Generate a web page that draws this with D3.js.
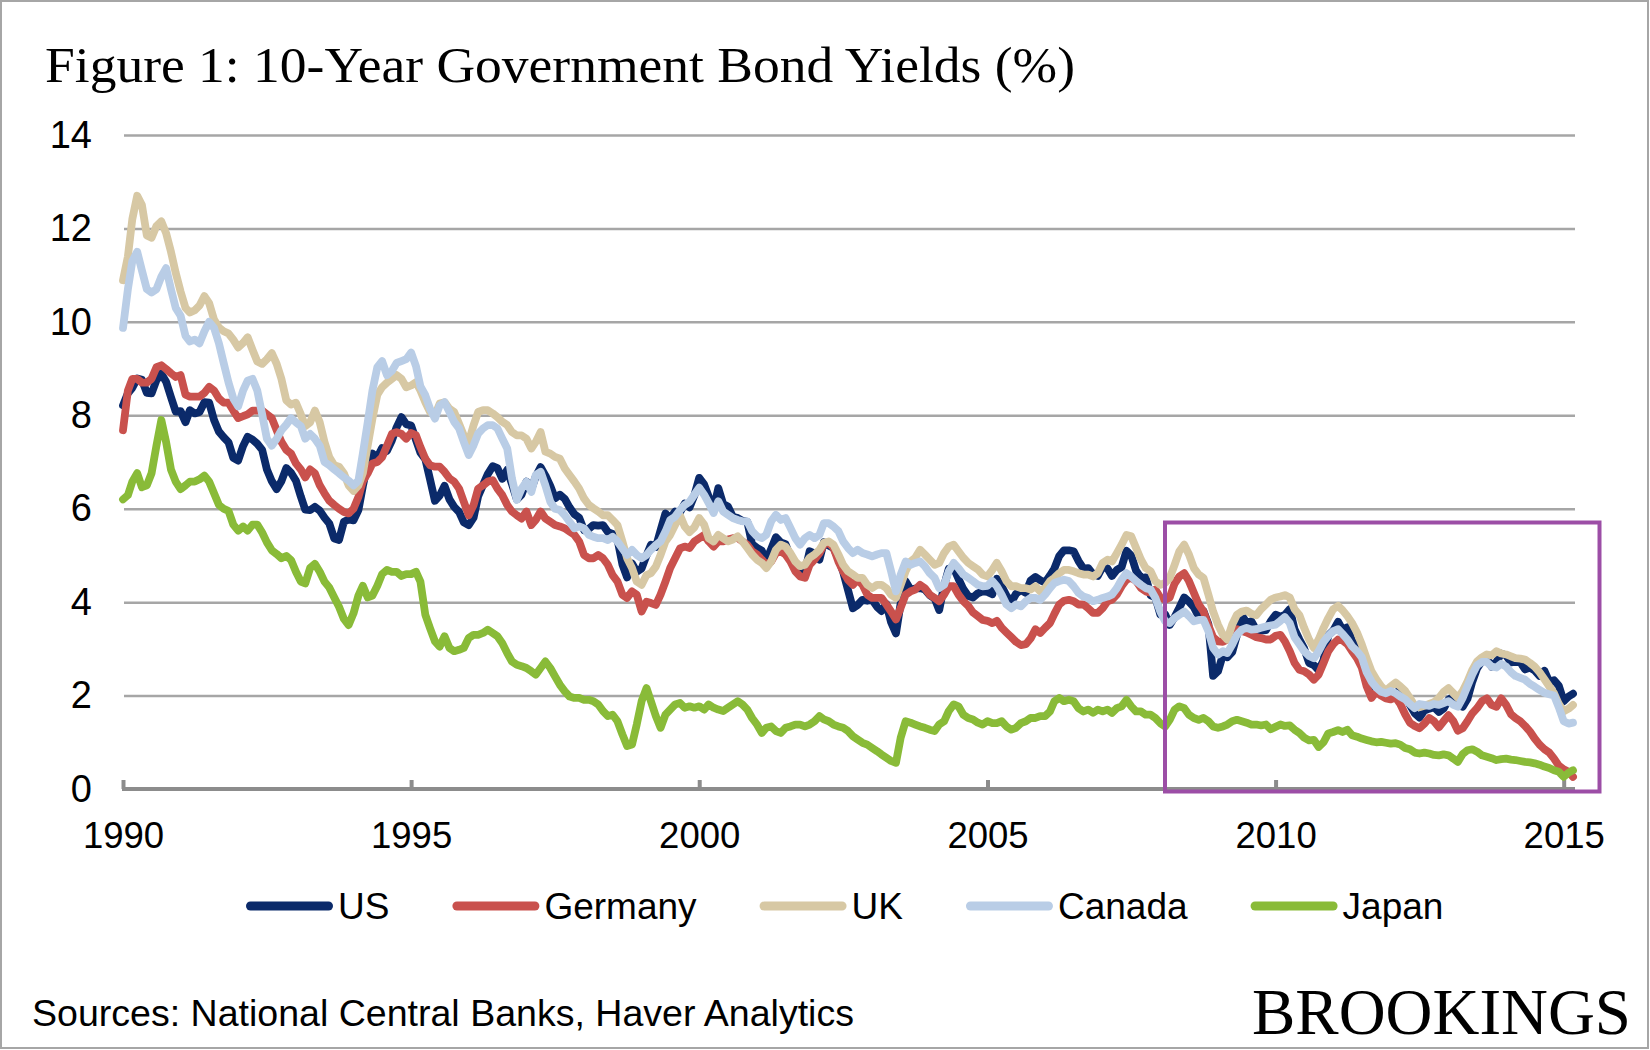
<!DOCTYPE html>
<html><head><meta charset="utf-8">
<script src="https://cdn.jsdelivr.net/npm/d3@7"></script>
<style>
html,body{margin:0;padding:0;background:#fff;}
svg{display:block;}
</style></head><body>
<svg id="chart" width="1650" height="1050"></svg>
<script>
// ---------- DATA ----------
const titleText = "Figure 1: 10-Year Government Bond Yields (%)";
const sourceText = "Sources: National Central Banks, Haver Analytics";
const brandText = "BROOKINGS";
const seriesNames = ["US", "Germany", "UK", "Canada", "Japan"];
const seriesColors = ["#0b2a6a", "#c9514d", "#d7c8a4", "#b9cde6", "#89bb38"];
const yTickValues = [0, 2, 4, 6, 8, 10, 12, 14];
const xTickYears = [1990, 1995, 2000, 2005, 2010, 2015];
const firstYear = 1990; // monthly observations from January 1990

const us = [
 8.21,8.47,8.59,8.79,8.76,8.48,8.47,8.75,8.89,8.72,8.39,8.08,
 8.09,7.85,8.11,8.04,8.07,8.28,8.27,7.90,7.65,7.53,7.42,7.09,
 7.03,7.34,7.54,7.48,7.39,7.26,6.84,6.59,6.42,6.59,6.87,6.77,
 6.60,6.26,5.98,5.97,6.04,5.96,5.81,5.68,5.36,5.33,5.72,5.77,
 5.75,5.97,6.48,6.97,7.18,7.10,7.30,7.24,7.46,7.74,7.96,7.81,
 7.78,7.47,7.20,7.06,6.63,6.17,6.28,6.49,6.20,6.04,5.93,5.71,
 5.65,5.81,6.27,6.51,6.74,6.91,6.87,6.64,6.83,6.53,6.20,6.30,
 6.58,6.42,6.69,6.89,6.71,6.49,6.22,6.30,6.21,6.03,5.88,5.81,
 5.54,5.57,5.65,5.64,5.65,5.50,5.46,5.34,4.81,4.53,4.83,4.65,
 4.72,5.00,5.23,5.18,5.54,5.90,5.79,5.94,5.92,6.11,6.03,6.28,
 6.66,6.52,6.26,5.99,6.44,6.10,6.05,5.83,5.80,5.74,5.72,5.24,
 5.16,5.10,4.89,5.14,5.39,5.28,5.24,4.97,4.73,4.57,4.65,5.09,
 5.04,4.91,5.28,5.21,5.16,4.93,4.65,4.26,3.87,3.94,4.05,4.03,
 4.05,3.90,3.81,3.96,3.57,3.33,3.98,4.45,4.27,4.29,4.30,4.27,
 4.15,4.08,3.83,4.35,4.72,4.73,4.50,4.28,4.13,4.10,4.19,4.23,
 4.22,4.17,4.50,4.34,4.14,4.00,4.18,4.26,4.20,4.46,4.54,4.47,
 4.42,4.57,4.72,4.99,5.11,5.11,5.09,4.88,4.72,4.73,4.60,4.56,
 4.76,4.72,4.56,4.69,4.75,5.10,5.00,4.67,4.52,4.53,4.15,4.10,
 3.74,3.74,3.51,3.68,3.88,4.10,4.01,3.89,3.69,3.81,3.53,2.42,
 2.52,2.87,2.82,2.93,3.29,3.72,3.56,3.59,3.40,3.39,3.40,3.59,
 3.73,3.69,3.73,3.85,3.42,3.20,3.01,2.70,2.65,2.54,2.76,3.29,
 3.39,3.58,3.41,3.46,3.17,3.00,3.00,2.30,1.98,2.15,2.01,1.98,
 1.97,1.97,2.17,2.05,1.80,1.62,1.53,1.68,1.72,1.75,1.65,1.72,
 1.91,1.98,1.96,1.76,1.93,2.30,2.58,2.74,2.81,2.62,2.72,2.90,
 2.86,2.71,2.72,2.71,2.56,2.60,2.54,2.42,2.53,2.30,2.33,2.21,
 1.88,1.98,2.04
];

const germany = [
 7.68,8.53,8.78,8.78,8.70,8.70,8.78,9.03,9.07,8.99,8.90,8.82,
 8.86,8.44,8.40,8.40,8.40,8.48,8.61,8.53,8.36,8.27,8.27,8.10,
 7.94,7.98,8.02,8.10,8.10,8.10,8.02,7.94,7.68,7.43,7.26,7.18,
 6.97,6.84,6.67,6.84,6.76,6.50,6.33,6.17,6.08,6.00,5.93,5.90,
 6.00,6.25,6.59,6.76,6.97,7.00,7.10,7.35,7.60,7.64,7.60,7.50,
 7.62,7.57,7.32,7.07,6.93,6.90,6.90,6.79,6.65,6.58,6.43,6.15,
 5.86,6.08,6.43,6.50,6.58,6.61,6.43,6.29,6.08,5.94,5.86,5.79,
 5.94,5.65,5.76,5.94,5.79,5.72,5.65,5.62,5.58,5.51,5.44,5.30,
 5.01,4.94,4.94,5.01,4.94,4.80,4.58,4.44,4.16,4.09,4.23,4.16,
 3.80,4.01,3.98,3.94,4.16,4.44,4.73,4.94,5.15,5.19,5.16,5.30,
 5.37,5.44,5.30,5.19,5.30,5.30,5.34,5.37,5.37,5.30,5.23,5.09,
 5.02,4.91,4.80,4.87,5.05,5.09,5.02,4.87,4.66,4.55,4.52,4.80,
 4.91,5.05,5.23,5.27,5.16,4.87,4.66,4.48,4.37,4.48,4.37,4.16,
 4.09,4.09,4.09,3.95,3.80,3.63,3.88,4.16,4.23,4.27,4.37,4.30,
 4.16,4.09,4.02,4.16,4.34,4.34,4.16,4.02,3.92,3.78,3.70,3.62,
 3.60,3.55,3.60,3.45,3.35,3.25,3.15,3.08,3.10,3.22,3.42,3.34,
 3.45,3.55,3.75,3.95,4.03,4.05,4.02,3.95,3.95,3.87,3.77,3.77,
 3.87,4.02,4.05,4.16,4.34,4.48,4.52,4.45,4.30,4.23,4.20,4.27,
 4.10,4.05,4.10,4.40,4.55,4.62,4.45,4.20,3.95,3.80,3.50,3.25,
 3.16,3.15,3.20,3.40,3.42,3.38,3.35,3.30,3.25,3.23,3.20,3.20,
 3.28,3.30,3.16,2.95,2.70,2.55,2.52,2.45,2.34,2.45,2.70,2.95,
 3.10,3.20,3.18,3.10,2.95,2.80,2.60,2.20,1.95,2.08,2.00,1.94,
 1.92,1.96,1.82,1.60,1.42,1.35,1.30,1.40,1.52,1.45,1.32,1.45,
 1.58,1.45,1.25,1.30,1.45,1.62,1.73,1.88,1.94,1.80,1.76,1.94,
 1.80,1.60,1.52,1.45,1.35,1.23,1.08,0.95,0.85,0.78,0.65,0.50,
 0.42,0.37,0.26
];

const uk = [
 10.89,11.40,12.20,12.70,12.50,11.85,11.80,12.05,12.15,11.90,11.50,11.05,
 10.65,10.30,10.20,10.25,10.35,10.55,10.40,10.05,9.88,9.80,9.75,9.62,
 9.45,9.55,9.67,9.40,9.15,9.10,9.20,9.33,9.10,8.78,8.32,8.23,
 8.27,8.02,7.77,7.85,8.10,7.85,7.43,7.10,6.93,6.90,6.76,6.50,
 6.38,6.50,6.76,7.35,7.93,8.44,8.60,8.70,8.78,8.86,8.78,8.60,
 8.64,8.71,8.53,8.28,8.07,8.00,8.25,8.28,8.14,8.07,7.82,7.57,
 7.43,7.79,8.07,8.11,8.11,8.04,7.96,7.86,7.79,7.64,7.57,7.57,
 7.50,7.29,7.43,7.64,7.22,7.18,7.11,7.07,6.86,6.72,6.58,6.43,
 6.22,6.08,6.01,5.94,5.86,5.86,5.76,5.65,5.30,4.94,4.73,4.44,
 4.37,4.58,4.62,4.76,5.01,5.30,5.44,5.65,5.86,5.62,5.50,5.60,
 5.80,5.66,5.37,5.30,5.44,5.37,5.30,5.34,5.41,5.30,5.16,5.02,
 4.91,4.84,4.73,4.87,5.12,5.23,5.19,5.05,4.87,4.77,4.80,4.95,
 5.02,5.12,5.27,5.30,5.23,5.02,4.80,4.66,4.59,4.52,4.52,4.37,
 4.30,4.37,4.37,4.30,4.16,4.09,4.37,4.66,4.87,4.95,5.12,5.02,
 4.91,4.80,4.84,5.05,5.19,5.23,5.09,4.95,4.84,4.77,4.70,4.59,
 4.55,4.69,4.84,4.66,4.45,4.34,4.34,4.30,4.30,4.27,4.34,4.23,
 4.30,4.45,4.52,4.62,4.69,4.69,4.66,4.62,4.59,4.59,4.55,4.62,
 4.84,4.91,4.87,5.05,5.23,5.44,5.41,5.16,4.91,4.73,4.66,4.45,
 4.37,4.41,4.52,4.80,5.09,5.23,5.02,4.73,4.59,4.52,4.16,3.80,
 3.52,3.30,3.20,3.52,3.73,3.80,3.82,3.75,3.72,3.85,3.95,4.05,
 4.10,4.12,4.15,4.10,3.85,3.72,3.45,3.20,3.02,3.20,3.45,3.66,
 3.85,3.92,3.83,3.70,3.55,3.35,3.10,2.80,2.52,2.35,2.20,2.10,
 2.20,2.28,2.20,2.10,1.95,1.78,1.75,1.78,1.82,1.86,1.95,2.08,
 2.16,2.05,1.95,2.10,2.30,2.55,2.73,2.82,2.88,2.86,2.95,2.90,
 2.88,2.84,2.80,2.79,2.77,2.70,2.62,2.50,2.35,2.20,2.05,1.82,
 1.66,1.72,1.80
];

const canada = [
 9.87,10.70,11.30,11.50,11.10,10.70,10.63,10.70,10.97,11.15,10.70,10.30,
 10.13,9.70,9.58,9.62,9.54,9.80,10.00,9.87,9.54,9.12,8.70,8.36,
 8.19,8.53,8.74,8.78,8.53,8.02,7.50,7.35,7.50,7.68,7.80,7.94,
 7.85,7.77,7.50,7.60,7.50,7.35,7.00,6.93,6.84,6.76,6.67,6.60,
 6.50,6.60,7.18,7.85,8.53,9.03,9.16,8.86,8.95,9.12,9.16,9.20,
 9.34,9.05,8.62,8.43,8.14,7.93,8.21,8.28,8.07,7.86,7.72,7.43,
 7.15,7.36,7.61,7.72,7.79,7.79,7.72,7.50,7.29,6.65,6.19,6.43,
 6.58,6.36,6.72,6.79,6.50,6.15,6.00,5.97,5.86,5.72,5.58,5.62,
 5.58,5.44,5.40,5.37,5.37,5.33,5.40,5.30,5.15,5.01,5.12,5.01,
 4.94,5.01,5.12,5.22,5.30,5.51,5.76,5.83,5.97,6.08,6.15,6.30,
 6.45,6.30,6.12,5.91,6.16,5.94,5.87,5.80,5.76,5.73,5.73,5.52,
 5.41,5.37,5.44,5.73,5.87,5.76,5.80,5.59,5.37,5.23,5.37,5.44,
 5.37,5.44,5.69,5.69,5.62,5.52,5.30,5.16,5.05,5.12,5.05,5.02,
 4.98,5.02,5.05,5.05,4.66,4.23,4.59,4.87,4.80,4.84,4.87,4.77,
 4.62,4.52,4.30,4.37,4.66,4.84,4.73,4.59,4.52,4.45,4.37,4.34,
 4.35,4.45,4.34,4.16,3.95,3.87,3.95,3.91,4.02,4.09,4.09,4.05,
 4.16,4.30,4.41,4.45,4.48,4.45,4.34,4.20,4.12,4.09,4.02,4.05,
 4.09,4.12,4.16,4.30,4.48,4.62,4.55,4.45,4.37,4.30,4.27,4.09,
 3.80,3.59,3.55,3.66,3.73,3.80,3.70,3.59,3.62,3.62,3.38,3.02,
 2.88,2.95,2.91,3.09,3.30,3.41,3.45,3.41,3.42,3.45,3.48,3.50,
 3.52,3.60,3.68,3.55,3.25,3.10,2.95,2.85,2.80,2.95,3.15,3.28,
 3.38,3.42,3.32,3.20,3.05,2.95,2.82,2.50,2.30,2.17,2.08,2.05,
 2.10,2.05,1.98,1.92,1.82,1.73,1.82,1.80,1.78,1.82,1.80,1.84,
 1.88,1.80,1.76,1.95,2.20,2.45,2.65,2.72,2.72,2.62,2.60,2.68,
 2.62,2.50,2.42,2.38,2.34,2.25,2.19,2.12,2.06,2.03,2.00,1.75,
 1.45,1.40,1.42
];

const japan = [
 6.20,6.29,6.58,6.76,6.46,6.50,6.76,7.35,7.90,7.43,6.84,6.58,
 6.42,6.50,6.58,6.58,6.63,6.71,6.58,6.33,6.08,6.00,5.95,5.66,
 5.53,5.62,5.53,5.66,5.66,5.49,5.28,5.11,5.03,4.94,4.99,4.90,
 4.65,4.44,4.40,4.73,4.82,4.65,4.44,4.31,4.10,3.90,3.64,3.51,
 3.76,4.14,4.35,4.10,4.14,4.35,4.60,4.69,4.65,4.65,4.56,4.60,
 4.60,4.65,4.44,3.73,3.44,3.16,3.05,3.27,3.02,2.95,2.98,3.02,
 3.23,3.30,3.30,3.34,3.41,3.34,3.27,3.12,2.91,2.73,2.66,2.63,
 2.59,2.52,2.45,2.59,2.73,2.59,2.41,2.23,2.09,1.98,1.95,1.95,
 1.91,1.91,1.88,1.81,1.67,1.56,1.59,1.45,1.17,0.92,0.95,1.38,
 1.88,2.16,1.88,1.56,1.31,1.59,1.70,1.81,1.84,1.74,1.77,1.74,
 1.77,1.70,1.81,1.74,1.70,1.67,1.74,1.81,1.88,1.81,1.70,1.52,
 1.38,1.20,1.31,1.34,1.24,1.20,1.31,1.34,1.38,1.38,1.34,1.38,
 1.45,1.56,1.49,1.45,1.38,1.34,1.31,1.24,1.13,1.06,0.99,0.95,
 0.88,0.81,0.74,0.67,0.60,0.56,1.10,1.45,1.42,1.38,1.34,1.31,
 1.27,1.24,1.38,1.45,1.67,1.81,1.77,1.59,1.52,1.49,1.42,1.38,
 1.45,1.41,1.41,1.45,1.34,1.27,1.31,1.41,1.45,1.52,1.52,1.56,
 1.56,1.66,1.88,1.95,1.88,1.91,1.88,1.73,1.66,1.70,1.63,1.70,
 1.66,1.70,1.63,1.73,1.77,1.91,1.77,1.66,1.66,1.59,1.59,1.52,
 1.41,1.34,1.48,1.70,1.77,1.73,1.59,1.52,1.48,1.52,1.45,1.34,
 1.31,1.34,1.38,1.45,1.48,1.45,1.42,1.38,1.38,1.36,1.38,1.28,
 1.33,1.38,1.35,1.36,1.27,1.20,1.10,1.04,1.05,0.90,1.00,1.19,
 1.22,1.26,1.22,1.27,1.15,1.12,1.08,1.05,1.02,1.00,1.01,0.99,
 0.97,0.98,0.95,0.88,0.85,0.78,0.76,0.78,0.76,0.73,0.72,0.74,
 0.72,0.65,0.58,0.75,0.83,0.85,0.80,0.72,0.69,0.66,0.62,0.64,
 0.65,0.63,0.62,0.60,0.58,0.57,0.55,0.52,0.48,0.45,0.40,0.37,
 0.26,0.35,0.40
];

const seriesValues = [us, germany, uk, canada, japan];

// ---------- DRAW ----------
const W = 1650, H = 1050;
const sans = "'Liberation Sans', Arial, sans-serif";
const serif = "'Liberation Serif', 'Times New Roman', serif";
const svg = d3.select("#chart");

svg.append("rect").attr("width", W).attr("height", H).attr("fill", "#fff");
svg.append("rect").attr("x", 1).attr("y", 1).attr("width", W - 3).attr("height", H - 3)
  .attr("fill", "none").attr("stroke", "#a6a6a6").attr("stroke-width", 2);

const dates = us.map((_, i) => new Date(firstYear, i, 1));
const plotLeft = 123, plotRight = 1575;
const x = d3.scaleTime().domain([dates[0], dates[dates.length - 1]]).range([plotLeft, 1573]);
const y = d3.scaleLinear().domain([0, 14]).range([789, 135]);

// title
svg.append("text").attr("x", 45).attr("y", 82)
  .attr("font-family", serif).attr("font-size", 51).attr("fill", "#000")
  .attr("textLength", 1030).attr("lengthAdjust", "spacingAndGlyphs")
  .text(titleText);

// y axis with gridlines
const yAxis = svg.append("g").attr("transform", `translate(${plotLeft + 1},0)`)
  .call(d3.axisLeft(y).tickValues(yTickValues).tickSize(-(plotRight - plotLeft - 1)).tickPadding(32).tickFormat(d3.format("d")));
yAxis.select(".domain").remove();
yAxis.selectAll(".tick line").attr("stroke", "#a6a6a6").attr("stroke-width", 2.5)
  .filter(d => d === 0).remove();
yAxis.selectAll(".tick text").attr("font-family", sans).attr("font-size", 38).attr("fill", "#000");

// x axis
const xAxis = svg.append("g").attr("transform", `translate(0,${y(0)})`)
  .call(d3.axisBottom(x).tickValues(xTickYears.map(yr => new Date(yr, 0, 1)))
    .tickSize(-9).tickPadding(33).tickFormat(d3.timeFormat("%Y")));
xAxis.select(".domain").remove();
xAxis.selectAll(".tick line").attr("stroke", "#8c8c8c").attr("stroke-width", 4);
xAxis.selectAll(".tick text").attr("font-family", sans).attr("font-size", 36.5).attr("fill", "#000");
xAxis.append("line").attr("x1", plotLeft - 1).attr("x2", plotRight).attr("y1", 0).attr("y2", 0)
  .attr("stroke", "#8c8c8c").attr("stroke-width", 4);

// series lines
const line = d3.line().x((d, i) => x(dates[i])).y(d => y(d));
svg.append("g").selectAll("path").data(seriesValues).join("path")
  .attr("d", line).attr("fill", "none")
  .attr("stroke", (d, i) => seriesColors[i]).attr("stroke-width", 7.8)
  .attr("stroke-linejoin", "round").attr("stroke-linecap", "round");

// highlight box
svg.append("rect").attr("x", 1165).attr("y", 522.5).attr("width", 434.5).attr("height", 269)
  .attr("fill", "none").attr("stroke", "#9c4ea6").attr("stroke-width", 4);

// legend
const legend = svg.append("g").attr("transform", "translate(0,906)");
let lx = 246;
seriesNames.forEach((name, i) => {
  legend.append("line").attr("x1", lx + 4.5).attr("x2", lx + 82.5).attr("y1", 0).attr("y2", 0)
    .attr("stroke", seriesColors[i]).attr("stroke-width", 9).attr("stroke-linecap", "round");
  const t = legend.append("text").attr("x", lx + 92).attr("y", 13)
    .attr("font-family", sans).attr("font-size", 37).attr("fill", "#000").text(name);
  lx = lx + 92 + t.node().getComputedTextLength() + 63;
});

// footer
svg.append("text").attr("x", 32).attr("y", 1026)
  .attr("font-family", sans).attr("font-size", 37.5).attr("fill", "#000")
  .attr("textLength", 822).attr("lengthAdjust", "spacingAndGlyphs").text(sourceText);
svg.append("text").attr("x", 1252).attr("y", 1034)
  .attr("font-family", serif).attr("font-size", 65).attr("fill", "#000")
  .attr("textLength", 379).attr("lengthAdjust", "spacingAndGlyphs").text(brandText);
</script>
</body></html>
